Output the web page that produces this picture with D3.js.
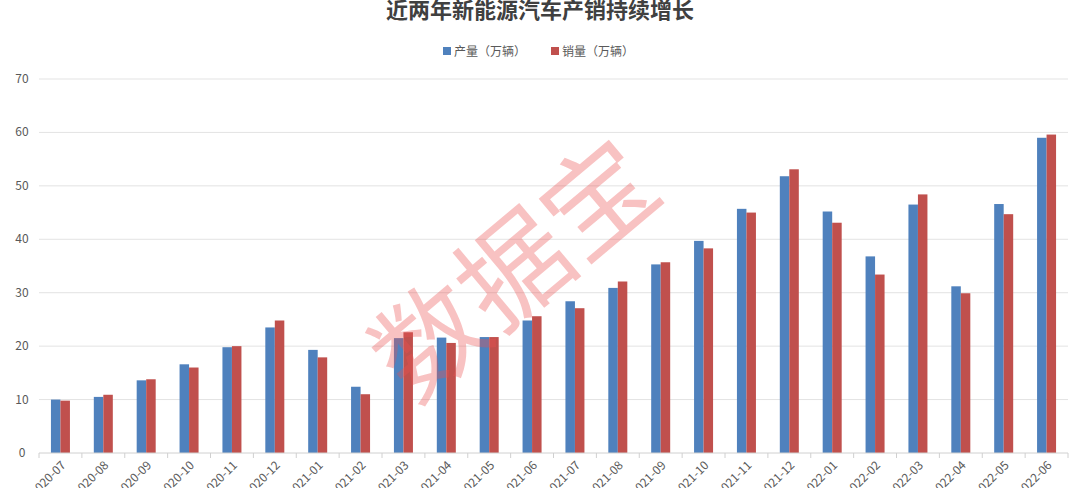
<!DOCTYPE html><html><head><meta charset="utf-8"><script src="https://cdn.jsdelivr.net/npm/d3@7"></script>
<style>body{margin:0;background:#fff}text{font-family:"Noto Sans CJK SC","Noto Sans",sans-serif}</style></head><body><svg id="c" width="1080" height="488"></svg>
<script>
const categories=["2020-07","2020-08","2020-09","2020-10","2020-11","2020-12","2021-01","2021-02","2021-03","2021-04","2021-05","2021-06","2021-07","2021-08","2021-09","2021-10","2021-11","2021-12","2022-01","2022-02","2022-03","2022-04","2022-05","2022-06"];
const production=[10.0,10.5,13.6,16.6,19.8,23.5,19.3,12.4,21.5,21.6,21.7,24.8,28.4,30.9,35.3,39.7,45.7,51.8,45.2,36.8,46.5,31.2,46.6,59.0];
const sales=[9.8,10.9,13.8,16.0,20.0,24.8,17.9,11.0,22.6,20.6,21.7,25.6,27.1,32.1,35.7,38.3,45.0,53.1,43.1,33.4,48.4,29.9,44.7,59.6];
const seriesNames=["产量（万辆）","销量（万辆）"];
const yTicks=[0,10,20,30,40,50,60,70];
const colors=["#4f81bd","#c0504d"];
const svg=d3.select("#c");
const x=d3.scaleBand().domain(categories).range([39,1068]);
const y=d3.scaleLinear().domain([0,70]).range([453,79]);
svg.append("g").selectAll("line").data(yTicks.slice(1)).join("line").attr("x1",39).attr("x2",1068).attr("y1",d=>y(d)).attr("y2",d=>y(d)).attr("stroke","#e3e3e3");
svg.append("g").selectAll("text").data(yTicks).join("text").attr("x",22).attr("y",d=>y(d)+4).attr("text-anchor","middle").attr("font-size",12).attr("fill","#595959").text(d=>d);
const bw=9.5;
[production,sales].forEach((s,i)=>{
 svg.append("g").selectAll("rect").data(s).join("rect").attr("x",(d,j)=>x(categories[j])+x.bandwidth()/2-bw+i*bw).attr("width",bw).attr("y",d=>y(d)).attr("height",d=>y(0)-y(d)).attr("fill",colors[i]);
});
svg.append("line").attr("x1",39).attr("x2",1068).attr("y1",453).attr("y2",453).attr("stroke","#d0d0d0");
svg.append("g").selectAll("line").data(categories.concat(["end"])).join("line").attr("x1",(d,j)=>39+j*x.step()).attr("x2",(d,j)=>39+j*x.step()).attr("y1",453).attr("y2",458).attr("stroke","#d0d0d0");
svg.append("g").selectAll("text").data(categories).join("text").attr("transform",d=>`translate(${x(d)+x.bandwidth()/2+6},${466}) rotate(-45)`).attr("text-anchor","end").attr("font-size",12).attr("fill","#595959").text(d=>d);
svg.append("text").attr("x",540).attr("y",18).attr("text-anchor","middle").attr("font-size",22).attr("font-weight","bold").attr("fill","#404040").text("近两年新能源汽车产销持续增长");
const lg=svg.append("g");
[[443,0],[551,1]].forEach(([lx,i])=>{lg.append("rect").attr("x",lx).attr("y",47).attr("width",8).attr("height",8).attr("fill",colors[i]);lg.append("text").attr("x",lx+11).attr("y",56).attr("font-size",12).attr("fill","#595959").text(seriesNames[i]);});
svg.append("text").attr("transform","translate(540,300) rotate(-40)").attr("text-anchor","middle").attr("font-size",110).attr("fill","rgba(235,80,80,0.35)").text("数据宝");
</script></body></html>
